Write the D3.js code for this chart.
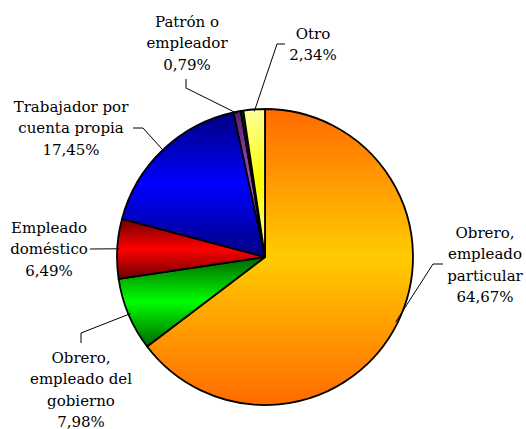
<!DOCTYPE html>
<html>
<head>
<meta charset="utf-8">
<script src="https://cdn.jsdelivr.net/npm/d3@7"></script>
<style>
  body { margin: 0; background: #fff; }
  text { font-family: "DejaVu Serif", serif; font-size: 15px; fill: #000; }
</style>
</head>
<body>
<div id="chart"></div>
<script>
// Data (clockwise from 12 o'clock)
const categories = ["Obrero, empleado particular", "Obrero, empleado del gobierno", "Empleado doméstico",
  "Trabajador por cuenta propia", "Patrón o empleador", "", "Otro"];
const values = [64.67, 7.98, 6.49, 17.45, 0.79, 0.28, 2.34];
const labelLines = [
  ["Obrero,", "empleado", "particular", "64,67%"],
  ["Obrero,", "empleado del", "gobierno", "7,98%"],
  ["Empleado", "doméstico", "6,49%"],
  ["Trabajador por", "cuenta propia", "17,45%"],
  ["Patrón o", "empleador", "0,79%"],
  [],
  ["Otro", "2,34%"]
];
// edge colour / middle colour of each slice gradient
const edgeColors = ["#ff6a00", "#006400", "#6b0000", "#000080", "#5a1e6e", "#003c3c", "#ffff99"];
const midColors = ["#ffcc00", "#00ff00", "#ff0000", "#0000ff", "#a050c0", "#008080", "#ffff00"];

// Label layout: text centre x, first baseline y, leader polyline (label side)
const labelPos = [
  { x: 485, y: 238, leader: [[443, 264], [433, 264]] },
  { x: 81, y: 363, leader: [[81, 343], [81, 333]] },
  { x: 49, y: 233, leader: [[90, 249]] },
  { x: 71, y: 112, leader: [[133, 128], [143, 128]] },
  { x: 187, y: 27, leader: [[186, 79], [186, 88]] },
  null,
  { x: 313, y: 39, leader: [[285, 44], [277, 44]] }
];

const W = 526, H = 429;
const cx = 265, cy = 257, r = 148;
const lineH = 21.4;

const svg = d3.select("#chart").append("svg")
  .attr("width", W).attr("height", H);

const data = values.map((v, i) => ({ name: categories[i], value: v, i: i }));
const pie = d3.pie().sort(null).value(d => d.value);
const arcs = pie(data);
const arc = d3.arc().innerRadius(0).outerRadius(r);

// Gradients (vertical: edge - middle - edge per slice)
const defs = svg.append("defs");
arcs.forEach(a => {
  const g = defs.append("linearGradient")
    .attr("id", "grad" + a.index)
    .attr("x1", 0).attr("x2", 0).attr("y1", 0).attr("y2", 1);
  g.append("stop").attr("offset", "0%").attr("stop-color", edgeColors[a.index]);
  g.append("stop").attr("offset", "50%").attr("stop-color", midColors[a.index]);
  g.append("stop").attr("offset", "100%").attr("stop-color", edgeColors[a.index]);
});

const g = svg.append("g").attr("transform", `translate(${cx},${cy})`);

g.selectAll("path.slice")
  .data(arcs)
  .enter().append("path")
  .attr("class", "slice")
  .attr("d", arc)
  .attr("fill", d => `url(#grad${d.index})`)
  .attr("stroke", "#000")
  .attr("stroke-width", 1.8)
  .attr("stroke-linejoin", "round");

// Leader lines: from label side to the slice edge
arcs.forEach(a => {
  const p = labelPos[a.index];
  if (!p) return;
  const mid = (a.startAngle + a.endAngle) / 2;
  const edge = [cx + Math.sin(mid) * (r - 2), cy - Math.cos(mid) * (r - 2)];
  const pts = p.leader.concat([edge]);
  svg.append("path")
    .attr("d", d3.line()(pts))
    .attr("fill", "none")
    .attr("stroke", "#000")
    .attr("stroke-width", 1);
});

// Labels
arcs.forEach(a => {
  const p = labelPos[a.index];
  if (!p) return;
  const t = svg.append("text")
    .attr("text-anchor", "middle");
  labelLines[a.index].forEach((line, k) => {
    t.append("tspan")
      .attr("x", p.x)
      .attr("y", p.y + k * lineH)
      .text(line);
  });
});
</script>
</body>
</html>
